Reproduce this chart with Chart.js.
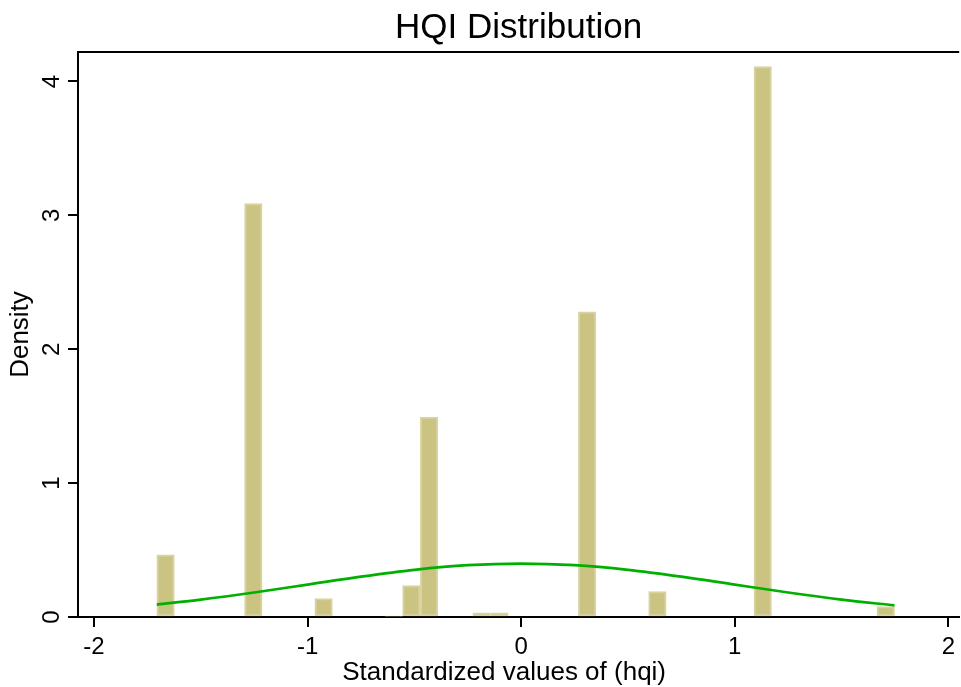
<!DOCTYPE html>
<html><head><meta charset="utf-8">
<script src="https://cdn.jsdelivr.net/npm/chart.js@4/dist/chart.umd.min.js"></script>
<style>html,body{margin:0;padding:0;background:#fff;overflow:hidden;}</style>
</head><body>
<canvas id="c" width="961" height="687" style="display:block;width:961px;height:687px"></canvas>
<script>
// Histogram bins (centers of non-empty bins) and their densities
const binCenters = [-1.665, -1.254, -0.925, -0.596, -0.514, -0.431, -0.185, -0.102, 0.309, 0.638, 1.131, 1.707];
const densities  = [0.465, 3.087, 0.137, 0.006, 0.234, 1.494, 0.032, 0.032, 2.28, 0.19, 4.112, 0.077];
// Normal density overlay
const curveX = [-1.706, -1.5, -1.25, -1.0, -0.75, -0.5, -0.25, 0, 0.25, 0.5, 0.75, 1.0, 1.25, 1.5, 1.748];
const curveY = [0.093, 0.130, 0.183, 0.242, 0.301, 0.352, 0.387, 0.399, 0.387, 0.352, 0.301, 0.242, 0.183, 0.130, 0.087];
// Tick values
const xTicks = [-2, -1, 0, 1, 2];
const yTicks = [0, 1, 2, 3, 4];

const FONT = "'Liberation Sans', Arial, Helvetica, sans-serif";

const framePlugin = {
  id: 'frame',
  afterDraw(chart) {
    const {ctx, chartArea: a} = chart;
    ctx.save();
    ctx.strokeStyle = '#000';
    ctx.lineWidth = 2;
    ctx.beginPath();
    ctx.moveTo(a.left - 1, a.top);
    ctx.lineTo(a.right, a.top);
    ctx.moveTo(a.left - 10, a.bottom);
    ctx.lineTo(a.left, a.bottom);
    ctx.stroke();
    ctx.restore();
  }
};

new Chart(document.getElementById('c'), {
  type: 'bar',
  data: {
    datasets: [
      {
        type: 'line',
        data: curveX.map((x, i) => ({x: x, y: curveY[i]})),
        borderColor: '#00B000',
        borderWidth: 2.7,
        pointRadius: 0,
        cubicInterpolationMode: 'monotone',
        fill: false,
        order: 0
      },
      {
        type: 'bar',
        data: binCenters.map((x, i) => ({x: x, y: densities[i]})),
        backgroundColor: '#CBC381',
        borderColor: '#D9D3A2',
        borderWidth: 2,
        borderSkipped: false,
        barPercentage: 1,
        categoryPercentage: 1,
        grouped: false,
        order: 1
      }
    ]
  },
  options: {
    responsive: false,
    animation: false,
    devicePixelRatio: 1,
    layout: {padding: {left: 0, right: 0, top: 0, bottom: 0}},
    plugins: {
      legend: {display: false},
      tooltip: {enabled: false},
      title: {
        display: true,
        fullSize: false,
        text: 'HQI Distribution',
        color: '#000',
        font: {family: FONT, size: 35, weight: 'normal', lineHeight: 1.2},
        padding: {top: 7, bottom: 3}
      }
    },
    scales: {
      x: {
        type: 'linear',
        offset: false,
        min: -2.075,
        max: 2.051,
        afterBuildTicks: s => { s.ticks = xTicks.map(v => ({value: v})); },
        afterFit: s => { s.height = 70; },
        grid: {offset: false, drawOnChartArea: false, drawTicks: true, tickLength: 10, color: '#000', lineWidth: 2},
        border: {display: true, color: '#000', width: 2},
        ticks: {color: '#000', font: {family: FONT, size: 24}, padding: 6, maxRotation: 0, autoSkip: false},
        title: {display: true, text: 'Standardized values of (hqi)    ', color: '#000',
                font: {family: FONT, size: 26, lineHeight: 1.2}, padding: {top: 0, bottom: -1}}
      },
      y: {
        type: 'linear',
        min: 0,
        max: 4.22,
        afterBuildTicks: s => { s.ticks = yTicks.map(v => ({value: v})); },
        afterFit: s => { s.width = 78; },
        grid: {drawOnChartArea: false, drawTicks: true, tickLength: 10, color: '#000', lineWidth: 2},
        border: {display: true, color: '#000', width: 2},
        ticks: {color: '#000', font: {family: FONT, size: 24}, padding: 9, minRotation: 90, maxRotation: 90, crossAlign: 'center', autoSkip: false},
        title: {display: true, text: 'Density', color: '#000',
                font: {family: FONT, size: 26, lineHeight: 1.2}, padding: {top: 5, bottom: 0}}
      }
    }
  },
  plugins: [framePlugin]
});
</script>
</body></html>
